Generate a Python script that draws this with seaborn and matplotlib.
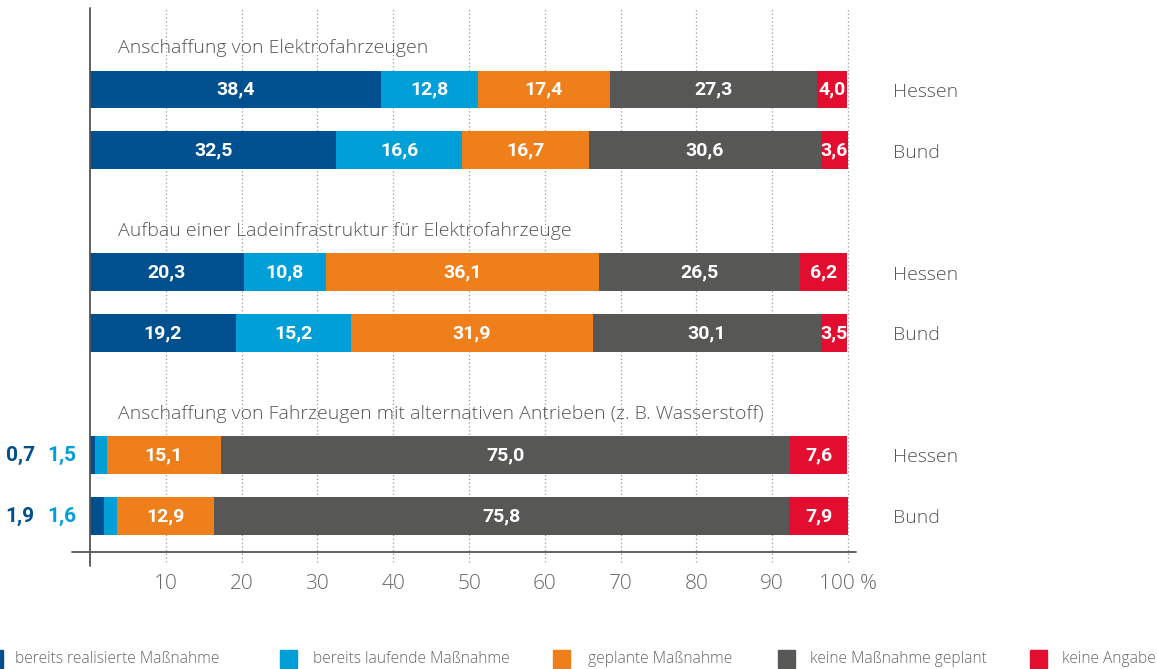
import matplotlib
matplotlib.use("Agg")
import matplotlib.pyplot as plt
from matplotlib.patches import Rectangle
import seaborn as sns
import pandas as pd
import numpy as np

# ---- data ----
categories = ["bereits realisierte Maßnahme", "bereits laufende Maßnahme",
              "geplante Maßnahme", "keine Maßnahme geplant", "keine Angabe"]
groups = ["Anschaffung von Elektrofahrzeugen",
          "Aufbau einer Ladeinfrastruktur für Elektrofahrzeuge",
          "Anschaffung von Fahrzeugen mit alternativen Antrieben (z. B. Wasserstoff)"]
regions = ["Hessen", "Bund"]
realisiert = [38.4, 32.5, 20.3, 19.2, 0.7, 1.9]
laufend = [12.8, 16.6, 10.8, 15.2, 1.5, 1.6]
geplant = [17.4, 16.7, 36.1, 31.9, 15.1, 12.9]
keine = [27.3, 30.6, 26.5, 30.1, 75.0, 75.8]
angabe = [4.0, 3.6, 6.2, 3.5, 7.6, 7.9]
xticks = [10, 20, 30, 40, 50, 60, 70, 80, 90, 100]
xticklabels = ["10", "20", "30", "40", "50", "60", "70", "80", "90", "100 %"]

colors = ["#004f8f", "#009fd8", "#ef7f1a", "#575756", "#e20d2f"]
series = [realisiert, laufend, geplant, keine, angabe]

# row positions (layout): two bars per group, one blank slot between groups
positions = [0, 1, 3, 4, 6, 7]

sns.set_theme(style="white")
plt.rcParams["font.family"] = ["Open Sans", "DejaVu Sans"]

W, H = 1157, 669
fig = plt.figure(figsize=(W / 100, H / 100), dpi=100)
ax = fig.add_axes([90 / W, 1 - 552 / H, (848 - 90) / W, (552 - 8) / H])

rows = []
for i, pos in enumerate(positions):
    cum = 0.0
    for k, cat in enumerate(categories):
        v = series[k][i]
        rows.append({"pos": pos, "cat": cat, "value": v, "start": cum, "cum": cum + v})
        cum += v
df = pd.DataFrame(rows)

# gridlines first
for t in xticks:
    ax.axvline(t, ymin=-0.018, ymax=1, color="#9a9a9a", lw=0.9, ls=(0, (1, 2)),
               clip_on=False, zorder=0)

# stacked via cumulative overlay, from last to first
for k in range(len(categories) - 1, -1, -1):
    sub = df[df["cat"] == categories[k]]
    sns.barplot(data=sub, x="cum", y="pos", orient="h", native_scale=True,
                color=colors[k], width=0.61, errorbar=None, ax=ax,
                saturation=1, linewidth=0, zorder=2)

# value labels
left_label_x = {0: -9.2, 1: -3.7}
for _, r in df.iterrows():
    k = categories.index(r["cat"])
    txt = f"{r['value']:.1f}".replace(".", ",")
    if r["value"] < 3:
        ax.text(left_label_x[k], r["pos"], txt, ha="center", va="center",
                color=colors[k], fontsize=15, fontweight="bold", clip_on=False,
                family=["Roboto", "DejaVu Sans"])
    else:
        ax.text(r["start"] + r["value"] / 2, r["pos"], txt, ha="center",
                va="center", color="white", fontsize=14, fontweight="bold",
                family=["Roboto", "DejaVu Sans"], zorder=5)

# group titles
for g, title in enumerate(groups):
    ax.text(3.7, positions[2 * g] - 0.67, title, ha="left", va="center",
            fontsize=14, color="#555555", fontweight="light")

# region labels at right
for i, pos in enumerate(positions):
    ax.text(105.9, pos + 0.04, regions[i % 2], ha="left", va="center",
            fontsize=14, color="#555555", clip_on=False, fontweight="light")

ax.set_xlim(0, 100)
ax.set_ylim(7.59, -1.33)
ax.set_xticks(xticks)
ax.set_xticklabels(xticklabels, fontsize=15, color="#666666", fontweight="light")
ax.tick_params(axis="x", length=0, pad=15.5)
ax.set_yticks([])
ax.set_xlabel("")
ax.set_ylabel("")
for s in ax.spines.values():
    s.set_visible(False)

# axis lines drawn manually (extend beyond axes)
ax.plot([-2.4, 101], [7.59, 7.59], color="#555555", lw=1.3, clip_on=False, zorder=3)
ax.plot([0, 0], [-1.33, 7.59 + 0.23], color="#555555", lw=1.3, clip_on=False, zorder=3)

# legend at bottom
leg_patch_x = [-14, 280, 553, 778, 1030]
leg_text_x = [15, 313, 588, 810, 1062]
ly = 659
for k, cat in enumerate(categories):
    fig.patches.append(Rectangle((leg_patch_x[k] / W, 1 - (ly + 9) / H), 17 / W, 18 / H,
                                 transform=fig.transFigure, color=colors[k],
                                 figure=fig))
    fig.text(leg_text_x[k] / W, 1 - ly / H, cat, ha="left", va="center",
             fontsize=11.2, color="#666666", fontweight="light")

fig.savefig("out.png", dpi=100)
